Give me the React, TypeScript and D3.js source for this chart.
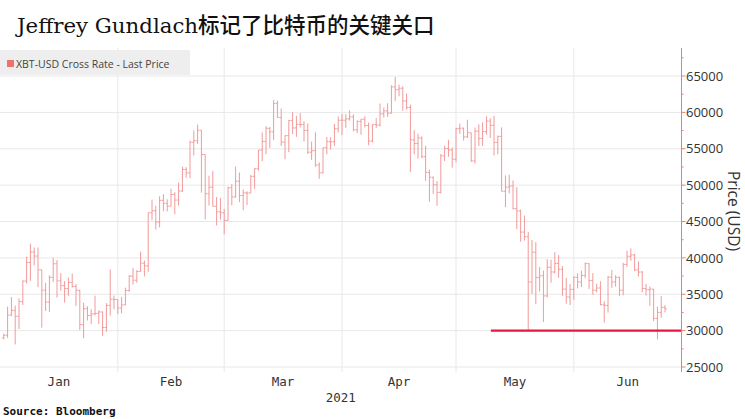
import React, { useEffect } from 'react';
import * as d3 from 'd3';

// daily bars, [open, high, low, close]
const jan: number[][] = [
  [28990, 29600, 28800, 29370], [29370, 33300, 29000, 32130], [32130, 34610, 32050, 32780],
  [32780, 33440, 28100, 31970], [31970, 34440, 30220, 33990], [33990, 36880, 33510, 36820],
  [36820, 40180, 36490, 39370], [39370, 41950, 36840, 40800], [40800, 41440, 38980, 40250],
  [40250, 41420, 35980, 38360], [38360, 38360, 30420, 35570], [35570, 36570, 32700, 33920],
  [33920, 37600, 32580, 37320], [37320, 40000, 36700, 39190], [39190, 39700, 34550, 36830],
  [36830, 37900, 35500, 36180], [36180, 36800, 33850, 35790], [35790, 37300, 34800, 36630],
  [36630, 37850, 35900, 36070], [36070, 36400, 33400, 35550], [35550, 35600, 30070, 30830],
  [30830, 33830, 28950, 33010], [33010, 33360, 31390, 32070], [32070, 32940, 30900, 32290],
  [32290, 34800, 32090, 32370], [32370, 32790, 30900, 32570], [32570, 32600, 29240, 30430],
  [30430, 33780, 29840, 33470], [33470, 38410, 32060, 34320], [34320, 34830, 32940, 34270],
  [34270, 34290, 32270, 33110],
];
const feb: number[][] = [
  [33110, 34640, 32380, 33540], [33540, 35900, 33490, 35510], [35510, 37660, 35360, 37470],
  [37470, 38590, 36320, 36930], [36930, 38310, 36600, 38140], [38140, 40850, 38140, 39270],
  [39270, 39620, 37450, 38900], [38900, 46200, 38080, 46200], [46200, 48000, 45170, 46480],
  [46480, 47150, 43880, 44920], [44920, 48460, 44190, 47910], [47910, 48750, 46420, 47500],
  [47500, 48050, 46390, 47110], [47110, 49490, 47110, 48720], [48720, 49020, 46000, 47950],
  [47950, 50340, 47200, 49200], [49200, 52530, 49070, 52150], [52150, 52470, 51020, 51680],
  [51680, 56110, 50940, 55890], [55890, 57510, 54070, 56100], [56100, 58330, 55670, 57540],
  [57540, 57540, 48970, 54210], [54210, 54210, 45290, 48820], [48820, 51290, 47210, 49710],
  [49710, 51950, 47090, 47090], [47090, 48370, 44450, 46340], [46340, 48250, 45270, 46190],
  [46190, 46720, 43240, 45140],
];
const mar: number[][] = [
  [45140, 49790, 45120, 49630], [49630, 50130, 47230, 48380], [48380, 52540, 48270, 50540],
  [50540, 51740, 47660, 48560], [48560, 49400, 46540, 48930], [48930, 49150, 47260, 48910],
  [48910, 51380, 48910, 51210], [51210, 52310, 49510, 52250], [52250, 54820, 51980, 54820],
  [54820, 57260, 53290, 56010], [56010, 58110, 54270, 57810], [57810, 57990, 55120, 57330],
  [57330, 61680, 56220, 61240], [61240, 61600, 59300, 59300], [59300, 60540, 55390, 55910],
  [55910, 56830, 53560, 56800], [56800, 58970, 54530, 58870], [58870, 60030, 57020, 57860],
  [57860, 59500, 56640, 58350], [58350, 59890, 57920, 58310], [58310, 58770, 55990, 57520],
  [57520, 58470, 54290, 54530], [54530, 55990, 53470, 54740], [54740, 57260, 52510, 52770],
  [52770, 53130, 50860, 51700], [51700, 55140, 51580, 55140], [55140, 56610, 54240, 55970],
  [55970, 56590, 54890, 55950], [55950, 58400, 55380, 57750], [57750, 59450, 57250, 58920],
  [58920, 59800, 56870, 58920],
];
const apr: number[][] = [
  [58920, 59760, 57870, 59100], [59100, 60270, 58870, 59380], [59380, 59750, 57410, 57600],
  [57600, 58910, 57170, 58760], [58760, 59090, 56920, 59060], [59060, 59450, 57940, 58190],
  [58190, 58610, 55470, 56050], [56050, 58340, 55880, 58320], [58320, 59210, 57860, 58250],
  [58250, 61220, 58060, 59790], [59790, 60660, 59290, 60200], [60200, 61250, 59370, 59890],
  [59890, 63740, 59870, 63500], [63500, 64860, 61550, 63110], [63110, 63820, 62210, 63310],
  [63310, 63590, 60220, 61570], [61570, 62570, 60360, 60680], [60680, 61060, 51800, 56220],
  [56220, 57530, 54220, 55720], [55720, 57080, 53650, 56470], [56470, 56710, 53700, 53910],
  [53910, 55410, 50580, 51760], [51760, 52130, 47710, 51090], [51090, 51170, 48810, 50050],
  [50050, 50550, 47160, 49000], [49000, 54290, 48850, 54020], [54020, 55420, 53320, 55030],
  [55030, 56230, 53890, 54820], [54820, 55170, 52400, 53560], [53560, 57900, 53130, 57750],
];
const may: number[][] = [
  [57750, 58450, 57050, 57830], [57830, 57900, 56130, 56630], [56630, 58990, 56480, 57200],
  [57200, 57200, 53210, 53330], [53330, 57910, 52970, 57420], [57420, 58360, 55380, 56400],
  [56400, 58650, 55390, 57360], [57360, 59460, 56940, 58800], [58800, 59210, 56480, 58230],
  [58230, 59520, 54070, 55860], [55860, 56810, 54240, 56700], [56700, 57940, 49150, 49150],
  [49150, 51330, 46980, 49720], [49720, 51440, 48870, 49880], [49880, 50640, 46660, 46760],
  [46760, 49720, 43960, 46460], [46460, 46620, 42210, 43540], [43540, 45810, 42370, 42910],
  [42910, 43550, 30000, 36690], [36690, 42460, 35050, 40780], [40780, 42170, 33620, 37300],
  [37300, 38780, 35380, 37540], [37540, 38250, 31190, 34770], [34770, 39840, 34550, 38710],
  [38710, 39740, 36580, 38060], [38060, 40780, 37850, 39240], [39240, 40380, 37250, 38440],
  [38440, 38860, 34780, 35700], [35700, 37230, 33690, 34620], [34620, 36400, 33520, 35680],
  [35680, 37470, 34240, 37330],
];
const jun: number[][] = [
  [37330, 37900, 35790, 36690], [36690, 38230, 35980, 37580], [37580, 39370, 37200, 39210],
  [39210, 39240, 35720, 36900], [36900, 37900, 34900, 35550], [35550, 36440, 35260, 35860],
  [35860, 36790, 33480, 33560], [33560, 34020, 31110, 33470], [33470, 37530, 32480, 37350],
  [37350, 38330, 35850, 36700], [36700, 37610, 36040, 37330], [37330, 37410, 34730, 35550],
  [35550, 39320, 34860, 39100], [39100, 40980, 38760, 40220], [40220, 41300, 39610, 40410],
  [40410, 40520, 38180, 38350], [38350, 39510, 37440, 38050], [38050, 38190, 35260, 35790],
  [35790, 36430, 34830, 35620], [35620, 36060, 33430, 35700], [35700, 35720, 31300, 31680],
  [31680, 33290, 28800, 32510], [32510, 34750, 31770, 33200], [33200, 33500, 32500, 33000],
];

const yTicks = [25000, 30000, 35000, 40000, 45000, 50000, 55000, 60000, 65000];
const monthNames = ['Jan', 'Feb', 'Mar', 'Apr', 'May', 'Jun'];
const supportLevel = 30000;
const supportFrom = new Date(Date.UTC(2021, 4, 10, 4));

const W = 745;
const H = 419;
const plotRight = 681.5;

const App: React.FC = () => {
  useEffect(() => {
    document.body.style.margin = '0';
  }, []);

  const start = new Date(Date.UTC(2021, 0, 1));
  const end = new Date(Date.UTC(2021, 5, 29, 8));
  const x = d3.scaleUtc().domain([start, end]).range([0, plotRight]);
  const y = d3.scaleLinear().domain([25000, 65000]).range([367, 76]);

  const rows = [...jan, ...feb, ...mar, ...apr, ...may, ...jun];
  // bar sits at the close of its day
  const bars = rows.map((r, i) => ({
    x: x(d3.utcDay.offset(start, i + 1)),
    o: r[0], h: r[1], l: r[2], c: r[3],
  }));

  const months = d3.utcMonth.range(start, d3.utcMonth.offset(start, 6));
  const minorTicks = d3.range(25000, 67501, 2500).filter(v => v % 5000 !== 0);

  const barColor = '#f29a9a';
  const axisColor = '#f07a7a';
  const gridColor = '#e8e8e8';

  return (
    <svg width={W} height={H} style={{ display: 'block', background: '#fff' }}>
      {/* title */}
      <text x={17} y={33} fill="#111" fontSize={21.3} fontFamily="'DejaVu Serif', serif">
        Jeffrey Gundlach
        <tspan fontSize={21.5} fontWeight={500} fontFamily="'Noto Sans CJK SC', sans-serif">标记了比特币的关键关口</tspan>
      </text>

      {/* horizontal grid */}
      {yTicks.map(v => (
        <line key={'h' + v} x1={0} x2={plotRight} y1={y(v)} y2={y(v)} stroke={gridColor} strokeWidth={1} />
      ))}
      {/* month grid */}
      {months.slice(1).map(m => (
        <line key={'v' + m.getTime()} x1={x(m)} x2={x(m)} y1={48} y2={372} stroke={gridColor} strokeWidth={1} />
      ))}

      {/* legend */}
      <rect x={0} y={50} width={190} height={25} fill="#eeeeee" />
      <rect x={7} y={60} width={7} height={7} fill="#f07070" />
      <text x={16} y={67.5} fontSize={10.5} fill="#444" fontFamily="'Open Sans', sans-serif">
        XBT-USD Cross Rate - Last Price
      </text>

      {/* OHLC bars */}
      <g stroke={barColor} strokeWidth={1} fill="none">
        {bars.map((b, i) => (
          <g key={i}>
            <line x1={b.x} x2={b.x} y1={y(b.h)} y2={y(b.l)} />
            <line x1={b.x - 1.7} x2={b.x} y1={y(b.o)} y2={y(b.o)} />
            <line x1={b.x} x2={b.x + 1.7} y1={y(b.c)} y2={y(b.c)} />
          </g>
        ))}
      </g>

      {/* support line */}
      <line x1={x(supportFrom)} x2={plotRight} y1={y(supportLevel)} y2={y(supportLevel)} stroke="#e8173f" strokeWidth={2.2} />

      {/* right axis */}
      <line x1={plotRight} x2={plotRight} y1={48} y2={372} stroke={axisColor} strokeWidth={1} />
      {minorTicks.map(v => (
        <line key={'m' + v} x1={plotRight} x2={plotRight + 2} y1={y(v)} y2={y(v)} stroke={axisColor} strokeWidth={1} />
      ))}
      {yTicks.map(v => (
        <g key={'t' + v}>
          <line x1={plotRight} x2={plotRight + 4} y1={y(v)} y2={y(v)} stroke={axisColor} strokeWidth={1} />
          <text x={686} y={y(v)} dy="0.36em" fontSize={13} fill="#333" fontFamily="'Open Sans', sans-serif">
            {v}
          </text>
        </g>
      ))}
      <text
        transform={`translate(${733},${211}) rotate(90)`}
        textAnchor="middle"
        dy="0.35em"
        fontSize={15.5}
        fill="#333"
        fontFamily="'Open Sans', sans-serif"
      >
        Price (USD)
      </text>

      {/* month labels */}
      {months.map((m, i) => {
        const x0 = Math.max(0, x(m));
        const x1 = Math.min(plotRight, x(d3.utcMonth.offset(m, 1)));
        return (
          <text key={'l' + i} x={(x0 + x1) / 2} y={386} textAnchor="middle" fontSize={12.5} fill="#333"
            fontFamily="'DejaVu Sans Mono', monospace">
            {monthNames[i]}
          </text>
        );
      })}
      <text x={plotRight / 2} y={402} textAnchor="middle" fontSize={12.5} fill="#333" fontFamily="'DejaVu Sans Mono', monospace">
        2021
      </text>

      <text x={3} y={415} fontSize={11} fontWeight="bold" fill="#111" fontFamily="'DejaVu Sans Mono', monospace">
        Source: Bloomberg
      </text>
    </svg>
  );
};

export default App;
